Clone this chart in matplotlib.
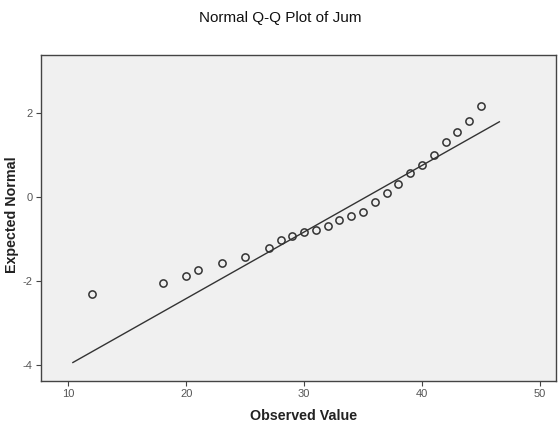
import matplotlib
matplotlib.use("Agg")
import matplotlib.pyplot as plt

plt.rcParams['font.family'] = ['Liberation Sans', 'DejaVu Sans']
plt.rcParams['axes.unicode_minus'] = False

observed = [12, 18, 20, 21, 23, 25, 27, 28, 29, 30, 31, 32, 33, 34, 35,
            36, 37, 38, 39, 40, 41, 42, 43, 44, 45]
expected = [-2.30, -2.03, -1.87, -1.73, -1.57, -1.41, -1.20, -1.01, -0.91, -0.83,
            -0.78, -0.68, -0.54, -0.45, -0.34, -0.12, 0.11, 0.32, 0.57, 0.78,
            1.01, 1.31, 1.55, 1.81, 2.17]

# reference line (normal fit)
line_x = [10.4, 46.55]
line_y = [-3.93, 1.80]

xticks = [10, 20, 30, 40, 50]
yticks = [-4, -2, 0, 2]

fig = plt.figure(figsize=(5.58, 4.23), dpi=100)
ax = fig.add_axes([0.0735, 0.0993, 0.9229, 0.7707])
ax.set_facecolor('#f0f0f0')

ax.plot(line_x, line_y, color='#333333', lw=1.0)
ax.plot(observed, expected, 'o', mfc='none', mec='#333333', mew=1.1, ms=5.2)

ax.set_xlim(7.7, 51.35)
ax.set_ylim(-4.37, 3.39)
ax.set_xticks(xticks)
ax.set_yticks(yticks)
for s in ax.spines.values():
    s.set_color('#444444')
    s.set_linewidth(1.0)
ax.tick_params(direction='out', length=3.6, color='#444444', labelsize=8,
               labelcolor='#555555', top=False, right=False, pad=2.5)

ax.set_xlabel('Observed Value', fontsize=10.3, fontweight='bold', color='#222222')
ax.xaxis.set_label_coords(0.51, -0.087)
ax.set_ylabel('Expected Normal', fontsize=10.3, fontweight='bold', color='#222222')
ax.yaxis.set_label_coords(-0.043, 0.509)
fig.text(0.5027, 0.957, 'Normal Q-Q Plot of Jum', ha='center', va='center', fontsize=11,
         color='#111111')

fig.savefig('out.png', dpi=100)
